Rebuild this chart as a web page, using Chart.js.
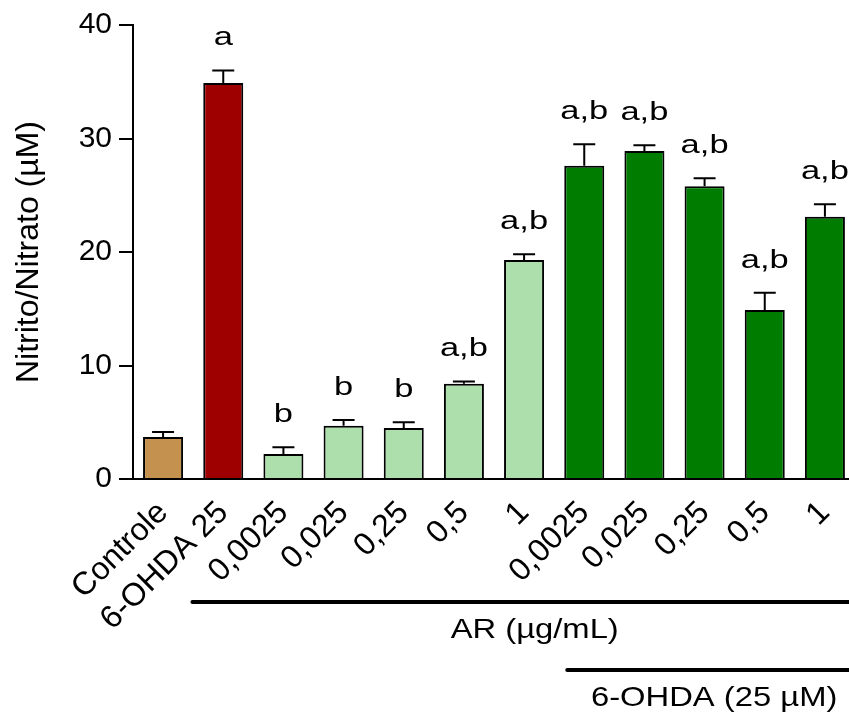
<!DOCTYPE html>
<html>
<head>
<meta charset="utf-8">
<script src="https://cdn.jsdelivr.net/npm/chart.js@4.4.1/dist/chart.umd.min.js"></script>
<style>
  html, body { margin: 0; padding: 0; background: #fff; overflow: hidden; }
  canvas { display: block; }
</style>
</head>
<body>
<canvas id="chart" width="856" height="713"></canvas>
<script>
const categories = ["Controle", "6-OHDA 25", "0,0025", "0,025", "0,25", "0,5", "1", "0,0025", "0,025", "0,25", "0,5", "1"];
const means = [3.7, 34.9, 2.2, 4.7, 4.5, 8.4, 19.3, 27.6, 28.9, 25.8, 14.9, 23.1];
const sem = [0.45, 1.1, 0.6, 0.5, 0.5, 0.2, 0.5, 1.9, 0.5, 0.7, 1.5, 1.1];
const letters = ["", "a", "b", "b", "b", "a,b", "a,b", "a,b", "a,b", "a,b", "a,b", "a,b"];
const barColors = ["#c4914f", "#9e0000", "#addfad", "#addfad", "#addfad", "#addfad", "#addfad",
  "#007d00", "#007d00", "#007d00", "#007d00", "#007d00"];
const yTicks = [0, 10, 20, 30, 40];
const groupLabels = ["AR (µg/mL)", "6-OHDA (25 µM)"];
const groupFirst = [2, 7]; // first bar under each group line

const FONT = "'Liberation Sans', Arial, sans-serif";

// text drawn a bit wider than the font, like in the original figure
function wideText(ctx, text, cx, baseY, size, sx) {
  ctx.save();
  ctx.translate(cx, baseY);
  ctx.scale(sx, 1);
  ctx.font = size + "px " + FONT;
  ctx.textAlign = "center";
  ctx.textBaseline = "alphabetic";
  ctx.fillStyle = "#000";
  ctx.fillText(text, 0, 0);
  ctx.restore();
}

const extras = {
  id: "extras",
  afterDraw(chart) {
    const ctx = chart.ctx;
    const x = chart.scales.x, y = chart.scales.y;
    const area = chart.chartArea;

    // error bars (upper only) + significance letters
    ctx.save();
    ctx.strokeStyle = "#000";
    ctx.lineWidth = 2;
    means.forEach((m, i) => {
      const px = x.getPixelForValue(i);
      const top = y.getPixelForValue(m + sem[i]);
      ctx.beginPath();
      ctx.moveTo(px, y.getPixelForValue(m));
      ctx.lineTo(px, top);
      ctx.moveTo(px - 11, top);
      ctx.lineTo(px + 11, top);
      ctx.stroke();
      if (letters[i]) wideText(ctx, letters[i], px, top - 25, 25, 1.38);
    });
    ctx.restore();

    // group lines under the axis
    const lineY = [area.bottom + 123, area.bottom + 191];
    const startOff = [91, 17];
    const textShift = [14, 6];
    ctx.save();
    ctx.strokeStyle = "#000";
    ctx.lineWidth = 4;
    ctx.lineCap = "round";
    groupLabels.forEach((label, g) => {
      const x0 = x.getPixelForValue(groupFirst[g]) - startOff[g];
      const x1 = 849;
      ctx.beginPath();
      ctx.moveTo(x0, lineY[g]);
      ctx.lineTo(x1 + 10, lineY[g]);
      ctx.stroke();
      wideText(ctx, label, (x0 + x1) / 2 + textShift[g], lineY[g] + 36, 28, 1.17);
    });
    ctx.restore();
  }
};

new Chart(document.getElementById("chart"), {
  type: "bar",
  data: {
    labels: categories,
    datasets: [{
      data: means,
      backgroundColor: barColors,
      borderColor: "#000",
      borderWidth: 2,
      barPercentage: 0.665,
      categoryPercentage: 1.0
    }]
  },
  options: {
    responsive: false,
    animation: false,
    devicePixelRatio: 1,
    layout: { padding: { left: 0, top: 25, right: 1, bottom: 0 } },
    plugins: {
      legend: { display: false },
      tooltip: { enabled: false }
    },
    scales: {
      x: {
        afterFit(scale) {
          scale.height = 234;
          // rotated labels must not shrink the plot area
          scale.paddingLeft = 0;
          scale.paddingRight = 0;
        },
        grid: { display: false },
        border: { display: true, color: "#000", width: 2 },
        ticks: {
          color: "#000",
          font: { family: FONT, size: 32 },
          maxRotation: 45,
          minRotation: 45,
          autoSkip: false,
          padding: 7
        }
      },
      y: {
        min: 0,
        max: 40,
        afterFit(scale) { scale.width = 133; },
        afterBuildTicks(scale) { scale.ticks = yTicks.map(v => ({ value: v })); },
        grid: {
          drawOnChartArea: false,
          drawTicks: true,
          tickLength: 14,
          color: "#000",
          lineWidth: 2
        },
        border: { display: true, color: "#000", width: 2 },
        ticks: {
          color: "#000",
          font: { family: FONT, size: 30 },
          padding: 7
        },
        title: {
          display: true,
          text: "Nitrito/Nitrato (µM)",
          color: "#000",
          font: { family: FONT, size: 32 },
          padding: { top: 10, bottom: 0 }
        }
      }
    }
  },
  plugins: [extras]
});
</script>
</body>
</html>
